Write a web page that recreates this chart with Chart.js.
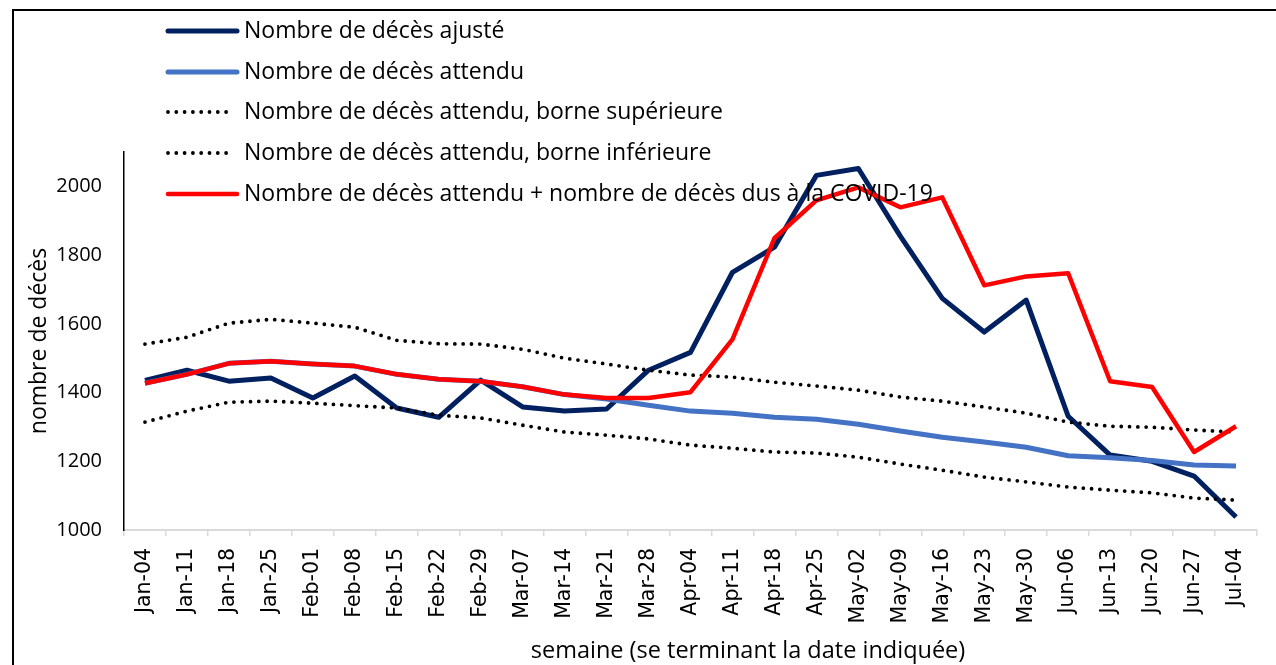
<!DOCTYPE html>
<html lang="fr">
<head>
  <meta charset="UTF-8">
  <title>Nombre de décès</title>
  <script src="https://cdn.jsdelivr.net/npm/chart.js"></script>
  <style>
    body {
      margin: 0;
      padding: 0;
      background: #fff;
      overflow: hidden;
    }
    .wrap {
      position: relative;
      width: 1276px;
      height: 665px;
    }
    .frame {
      position: absolute;
      left: 12px;
      top: 9px;
      right: 0;
      bottom: -10px;
      border-left: 2px solid #000;
      border-top: 2px solid #000;
      pointer-events: none;
    }
  </style>
</head>
<body>
  <div class="wrap">
    <canvas id="deces-chart" width="1276" height="665"></canvas>
    <div class="frame"></div>
  </div>
  <script>
    const semaines = ['Jan-04', 'Jan-11', 'Jan-18', 'Jan-25', 'Feb-01', 'Feb-08', 'Feb-15', 'Feb-22', 'Feb-29',
      'Mar-07', 'Mar-14', 'Mar-21', 'Mar-28', 'Apr-04', 'Apr-11', 'Apr-18', 'Apr-25', 'May-02', 'May-09',
      'May-16', 'May-23', 'May-30', 'Jun-06', 'Jun-13', 'Jun-20', 'Jun-27', 'Jul-04'];

    const decesAjuste = [1435, 1465, 1433, 1442, 1384, 1448, 1355, 1328, 1436, 1358, 1346, 1352, 1465, 1517,
      1750, 1823, 2032, 2052, 1855, 1674, 1576, 1669, 1331, 1218, 1200, 1157, 1038];

    const decesAttendu = [1427, 1453, 1485, 1491, 1483, 1477, 1453, 1439, 1433, 1417, 1394, 1381, 1363, 1346,
      1340, 1328, 1322, 1308, 1288, 1270, 1256, 1241, 1216, 1210, 1202, 1189, 1186];

    const borneSup = [1541, 1561, 1602, 1613, 1602, 1590, 1552, 1542, 1541, 1526, 1500, 1483, 1465, 1451,
      1445, 1430, 1419, 1407, 1387, 1375, 1358, 1340, 1314, 1302, 1299, 1291, 1285];

    const borneInf = [1314, 1346, 1372, 1375, 1369, 1362, 1355, 1334, 1326, 1305, 1285, 1276, 1265, 1247,
      1238, 1227, 1224, 1212, 1192, 1174, 1154, 1140, 1125, 1116, 1108, 1093, 1087];

    const attenduPlusCovid = [1427, 1453, 1485, 1491, 1483, 1477, 1453, 1439, 1433, 1417, 1394, 1384, 1384, 1401,
      1555, 1849, 1959, 1997, 1939, 1968, 1712, 1738, 1747, 1433, 1416, 1227, 1302];

    const yTicks = [1000, 1200, 1400, 1600, 1800, 2000];

    const titreX = 'semaine (se terminant la date indiquée)';

    const fontMain = "'Open Sans', 'DejaVu Sans', sans-serif";

    // légende empilée en haut à gauche + titre de l'axe x décalé comme dans l'original
    const legendePlugin = {
      id: 'legendeVerticale',
      afterDatasetsDraw(chart) {
        const ctx = chart.ctx;
        const x0 = 168, x1 = 237, xt = 244;
        const ys = [31, 72, 112, 153, 194];
        ctx.save();
        chart.data.datasets.forEach((ds, i) => {
          const y = ys[i];
          ctx.beginPath();
          ctx.strokeStyle = ds.borderColor;
          ctx.lineWidth = ds.borderWidth;
          ctx.lineCap = 'round';
          ctx.setLineDash(ds.borderDash || []);
          ctx.moveTo(x0, y);
          ctx.lineTo(ds.borderDash ? 234 : x1, y);
          ctx.stroke();
          ctx.setLineDash([]);
          ctx.fillStyle = '#000';
          ctx.font = '23px ' + fontMain;
          ctx.textBaseline = 'middle';
          ctx.textAlign = 'left';
          ctx.fillText(ds.label, xt, y);
        });
        ctx.font = '23.5px ' + fontMain;
        ctx.textAlign = 'center';
        ctx.textBaseline = 'middle';
        ctx.fillText(titreX, 748, 651);
        ctx.restore();
      }
    };

    new Chart(document.getElementById('deces-chart'), {
      type: 'line',
      data: {
        labels: semaines,
        datasets: [
          { label: 'Nombre de décès ajusté', data: decesAjuste, borderColor: '#002060', borderWidth: 5, order: 3 },
          { label: 'Nombre de décès attendu', data: decesAttendu, borderColor: '#4472C4', borderWidth: 5, order: 2 },
          { label: 'Nombre de décès attendu, borne supérieure', data: borneSup, borderColor: '#000000', borderWidth: 3.8, borderDash: [0, 8.3], borderCapStyle: 'round', order: 1 },
          { label: 'Nombre de décès attendu, borne inférieure', data: borneInf, borderColor: '#000000', borderWidth: 3.8, borderDash: [0, 8.3], borderCapStyle: 'round', order: 1 },
          { label: 'Nombre de décès attendu + nombre de décès dus à la COVID-19', data: attenduPlusCovid, borderColor: '#FF0000', borderWidth: 4.5, order: 0 }
        ]
      },
      options: {
        responsive: false,
        animation: false,
        elements: {
          point: { radius: 0 },
          line: { tension: 0, borderJoinStyle: 'round' }
        },
        layout: { padding: { left: 0, right: 19, top: 152, bottom: 0 } },
        plugins: {
          legend: { display: false },
          tooltip: { enabled: false }
        },
        scales: {
          x: {
            offset: true,
            grid: { display: true, drawOnChartArea: false, drawTicks: true, tickLength: 6, color: '#d9d9d9', lineWidth: 1.5, offset: true },
            border: { display: true, color: '#d9d9d9', width: 2 },
            ticks: {
              autoSkip: false,
              maxRotation: 90,
              minRotation: 90,
              padding: 12,
              color: '#000',
              font: { family: "'DejaVu Sans', sans-serif", size: 20.5 }
            },
            afterFit(scale) { scale.height = 135; }
          },
          y: {
            min: 1000,
            max: 2100,
            grid: { display: false, drawTicks: false },
            border: { display: true, color: '#000', width: 1.5 },
            afterBuildTicks(scale) { scale.ticks = yTicks.map(v => ({ value: v })); },
            ticks: {
              padding: 22,
              color: '#000',
              font: { family: fontMain, size: 20 },
              callback: v => String(v)
            },
            title: {
              display: true,
              text: 'nombre de décès',
              color: '#000',
              font: { family: fontMain, size: 23 },
              padding: { top: 26, bottom: 0 }
            },
            afterFit(scale) { scale.width = 124; }
          }
        }
      },
      plugins: [legendePlugin]
    });
  </script>
</body>
</html>
